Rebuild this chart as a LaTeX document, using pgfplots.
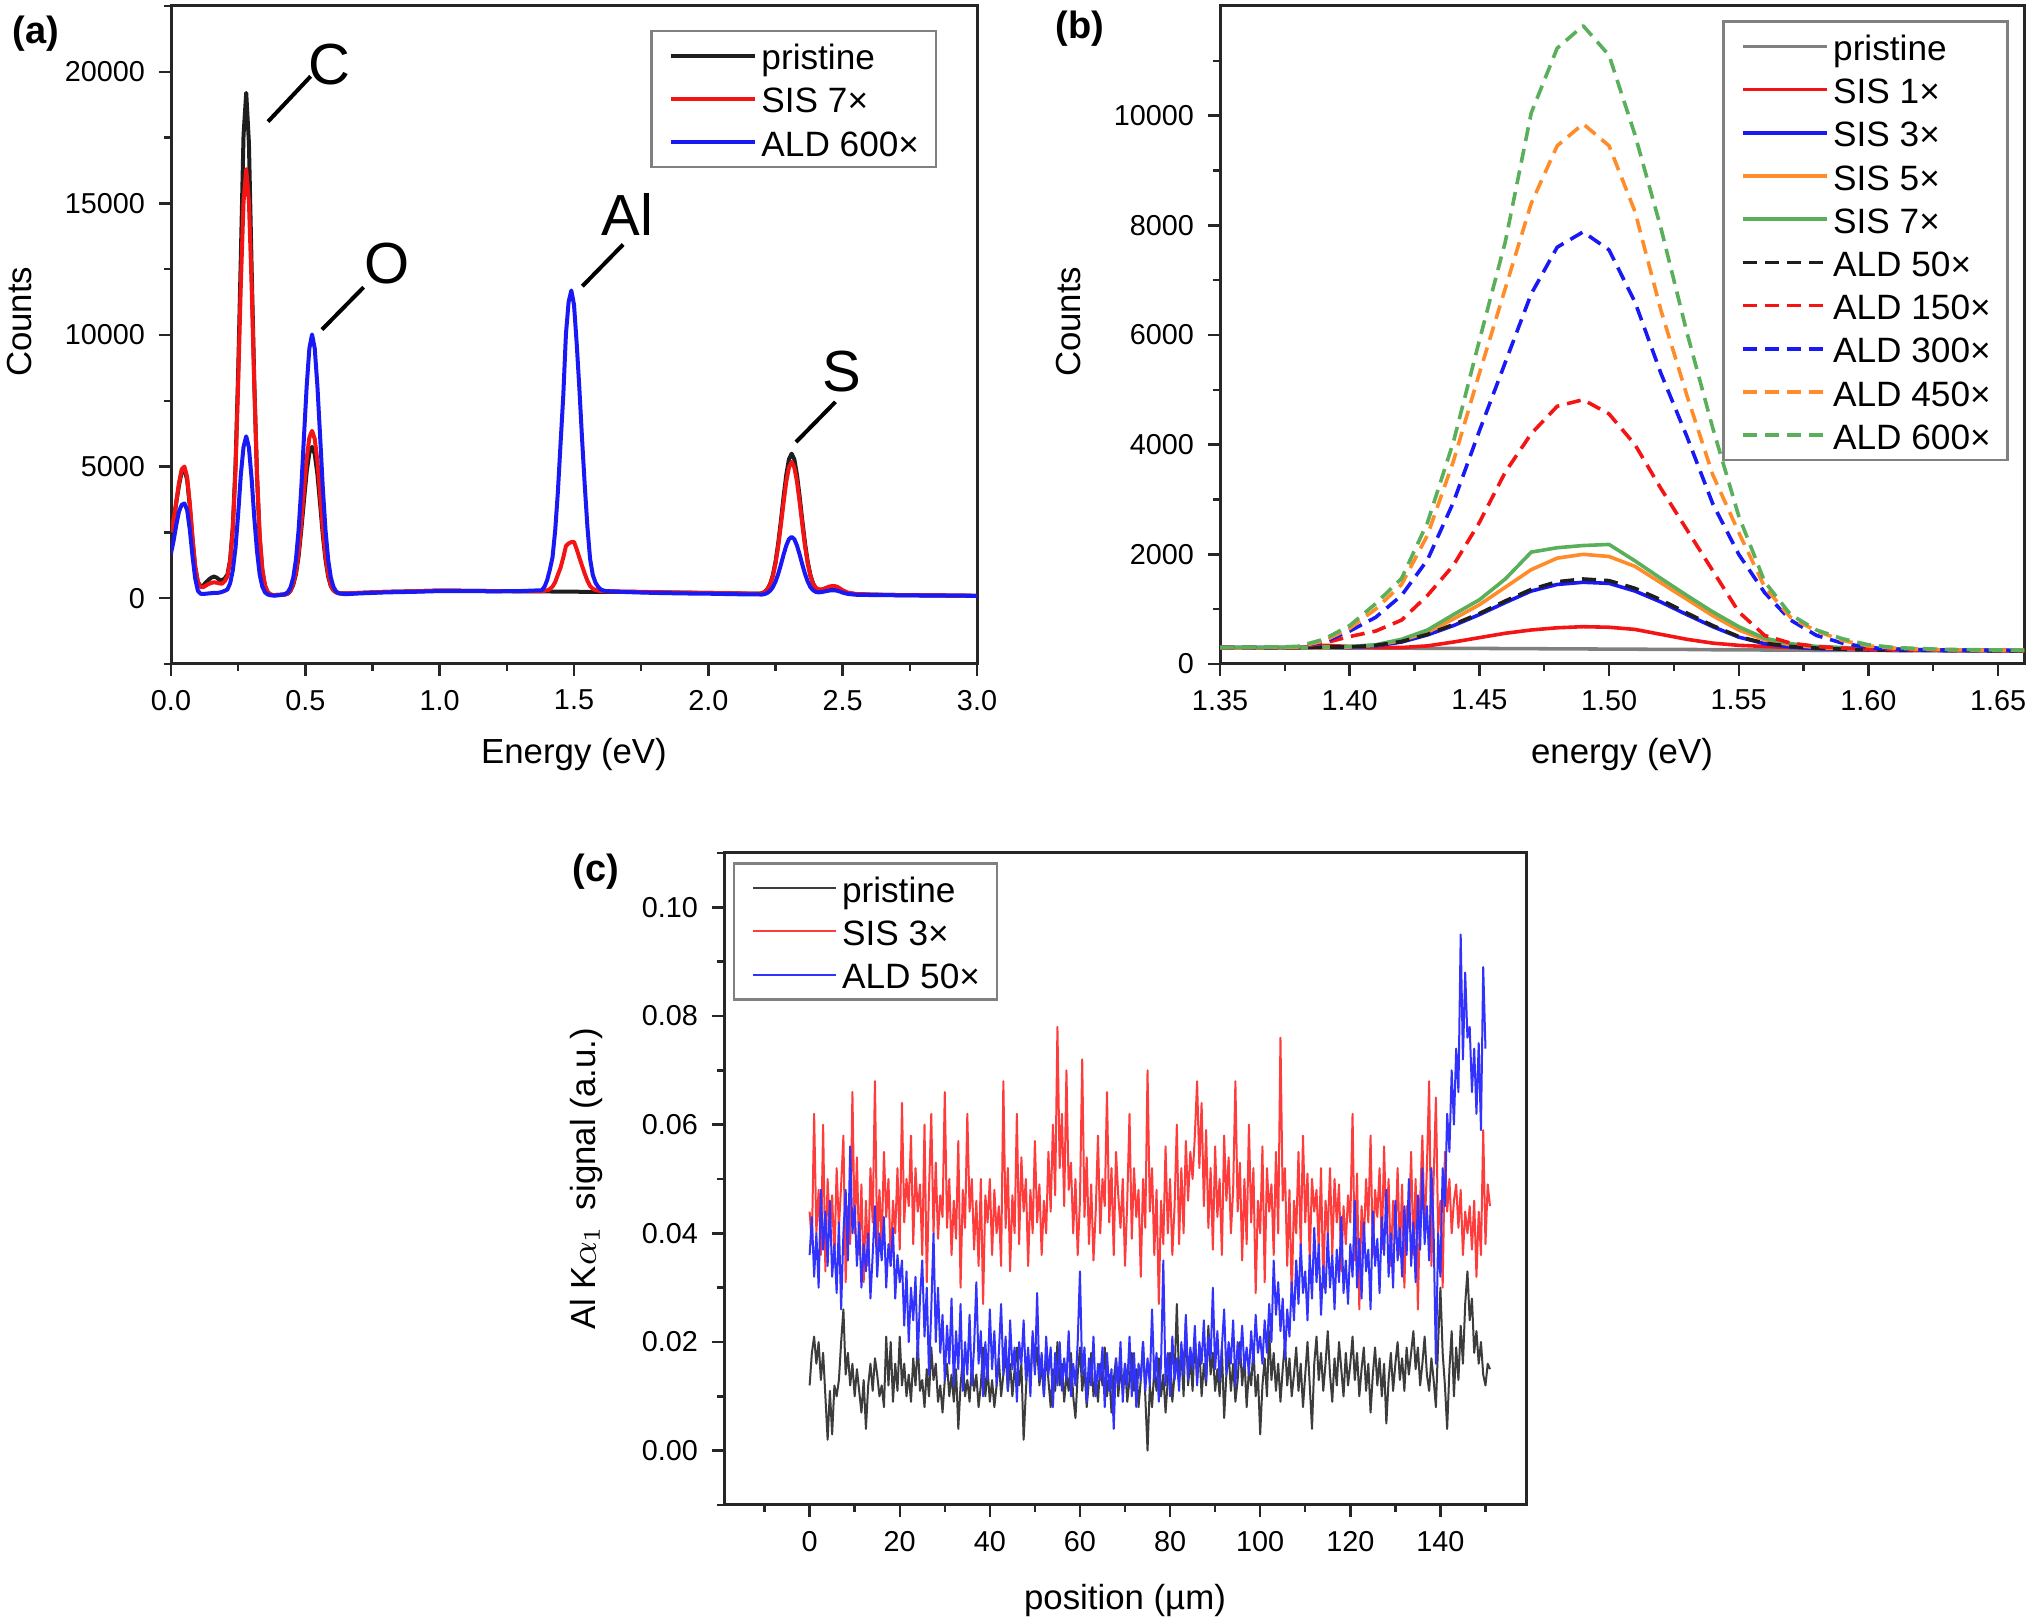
\documentclass[border=0pt]{standalone}
\usepackage{fontspec}
\setmainfont{Liberation Sans}
\usepackage{pgfplots}
\pgfplotsset{compat=1.18}
\usepackage{pgfplotstable}

\definecolor{cR}{RGB}{245,20,20}
\definecolor{cB}{RGB}{25,25,245}
\definecolor{cO}{RGB}{255,140,40}
\definecolor{cG}{RGB}{90,175,90}
\definecolor{cK}{RGB}{30,30,30}
\definecolor{cP}{RGB}{128,128,128}
\definecolor{lR}{RGB}{255,60,60}
\definecolor{lB}{RGB}{50,50,255}
\definecolor{lK}{RGB}{60,60,60}

\pgfplotstableread{
E pri s1 s3 s5 s7 a50 a150 a300 a450 a600
1.35 290 290 300 290 300 300 300 300 300 300
1.36 290 290 300 290 300 300 300 300 300 305
1.37 290 290 300 295 300 300 300 300 305 310
1.38 290 300 300 300 300 300 310 310 310 320
1.39 290 340 310 300 310 310 380 400 420 450
1.40 290 320 300 310 320 310 500 600 650 700
1.41 290 300 330 340 350 340 600 850 1000 1100
1.42 290 300 400 430 450 410 800 1250 1450 1560
1.43 285 330 530 580 620 540 1250 1900 2350 2580
1.44 285 400 700 820 900 720 1800 2950 3700 4050
1.45 285 480 900 1080 1170 920 2580 4250 5300 5900
1.46 280 560 1120 1400 1550 1150 3500 5500 6850 7700
1.47 280 620 1330 1720 2040 1360 4200 6750 8400 10050
1.48 275 660 1450 1930 2120 1500 4700 7600 9450 11230
1.49 275 680 1490 2000 2160 1550 4820 7880 9850 11640
1.50 270 670 1470 1960 2180 1520 4560 7550 9450 11100
1.51 270 630 1330 1780 1880 1380 4000 6600 8250 9650
1.52 265 540 1130 1480 1560 1170 3200 5300 6450 7950
1.53 265 450 900 1180 1250 930 2450 4150 4900 6050
1.54 260 380 680 880 950 700 1700 2920 3450 4300
1.55 260 340 490 620 680 500 950 2000 2400 2700
1.56 255 320 370 440 470 380 520 1300 1400 1500
1.57 255 300 310 350 370 320 380 800 850 900
1.58 250 290 280 300 320 290 320 520 600 620
1.59 250 280 270 280 300 270 290 380 430 460
1.60 250 270 260 270 280 260 270 300 330 350
1.61 245 260 250 260 270 250 260 270 290 300
1.62 245 255 250 255 260 250 255 260 270 280
1.63 245 250 245 250 255 245 250 255 260 265
1.64 240 250 245 250 250 245 250 250 255 260
1.65 240 245 240 245 250 240 245 250 250 255
1.66 240 245 240 245 245 240 245 245 250 250
}\tabB

\pgfplotsset{
  myaxis/.style={
    scale only axis,
    axis line style={line width=0.75pt, black!85},
    tick style={line width=0.6pt, black!85},
    tick align=outside, tick pos=left,
    major tick length=3pt, minor tick length=1.8pt,
    scaled ticks=false,
    /pgf/number format/assume math mode=true,
    tick label style={font=\fontsize{7.2}{8}\selectfont},
    label style={font=\fontsize{8.7}{10}\selectfont},
    legend cell align=left,
    legend image code/.code={\path (0pt,0pt); \draw[##1] (1.5pt,0pt) -- (22.3pt,0pt);},
    legend style={font=\fontsize{8.8}{10}\selectfont, draw=black!50, line width=0.6pt,
      inner xsep=3pt, inner ysep=0.8pt, row sep=0pt,
      nodes={inner xsep=1.2pt, inner ysep=0.8pt, text height=8.1pt, text depth=1.1pt}},
    every axis plot/.append style={line join=round},
  },
  dsh/.style={dash pattern=on 3.5pt off 2pt}
}

\begin{document}
\begin{tikzpicture}
\path[use as bounding box] (0,0) rectangle (508pt,405.75pt);

% ---------------- (a) ----------------
\begin{axis}[myaxis, at={(42.75pt,239.75pt)}, anchor=south west,
  width=201.5pt, height=164.5pt,
  xmin=0, xmax=3, ymin=-2500, ymax=22500,
  xtick={0,0.5,1,1.5,2,2.5,3}, minor xtick={0.25,0.75,1.25,1.75,2.25,2.75},
  ytick={0,5000,10000,15000,20000}, minor ytick={-2500,2500,7500,12500,17500,22500},
  xticklabel style={/pgf/number format/.cd, fixed, fixed zerofill, precision=1},
  yticklabel style={/pgf/number format/.cd, set thousands separator={}},
  xlabel={Energy (eV)}, ylabel={Counts},
  xlabel style={at={(axis description cs:0.5,-0.137)}, anchor=center},
  ylabel style={at={(axis description cs:-0.188,0.52)}, anchor=center},
  legend style={at={(0.9504,0.964)}, anchor=north east},
]
\addplot[cK, line width=1pt] coordinates {(0,2450)(0.01,2950)(0.02,3650)(0.03,4300)(0.04,4800)(0.05,4900)(0.06,4500)(0.07,3500)(0.08,2250)(0.09,1200)(0.10,620)(0.11,450)(0.12,480)(0.13,600)(0.14,700)(0.15,780)(0.16,820)(0.17,780)(0.18,700)(0.19,680)(0.20,750)(0.21,900)(0.22,1450)(0.23,2700)(0.24,5000)(0.25,8600)(0.26,13000)(0.27,17600)(0.28,19200)(0.29,17300)(0.30,12600)(0.31,8200)(0.32,4700)(0.33,2300)(0.34,1050)(0.35,460)(0.36,230)(0.37,140)(0.38,120)(0.39,120)(0.40,125)(0.415,135)(0.425,140)(0.435,170)(0.445,280)(0.455,510)(0.465,910)(0.475,1590)(0.485,2600)(0.495,3720)(0.505,4800)(0.515,5520)(0.525,5750)(0.535,5480)(0.545,4700)(0.555,3580)(0.565,2400)(0.575,1460)(0.585,820)(0.595,450)(0.605,290)(0.615,220)(0.625,190)(0.65,180)(0.70,200)(0.80,240)(0.90,260)(1.00,290)(1.10,280)(1.20,270)(1.30,260)(1.40,255)(1.50,245)(1.60,240)(1.70,240)(1.80,225)(1.90,210)(2.00,200)(2.10,180)(2.19,170)(2.20,190)(2.21,240)(2.22,350)(2.23,540)(2.24,870)(2.25,1380)(2.26,2080)(2.27,2930)(2.28,3850)(2.29,4680)(2.30,5280)(2.31,5490)(2.32,5280)(2.33,4680)(2.34,3850)(2.35,2930)(2.36,2080)(2.37,1380)(2.38,880)(2.39,560)(2.40,380)(2.41,320)(2.42,310)(2.43,330)(2.44,370)(2.45,400)(2.46,420)(2.47,420)(2.48,390)(2.49,330)(2.50,270)(2.52,190)(2.55,150)(2.60,135)(2.70,120)(2.80,110)(2.90,100)(3.00,90)};
\addlegendentry{pristine}
\addplot[cR, line width=1pt] coordinates {(0,2500)(0.01,3000)(0.02,3700)(0.03,4400)(0.04,4900)(0.05,5000)(0.06,4600)(0.07,3600)(0.08,2300)(0.09,1200)(0.10,600)(0.11,420)(0.12,420)(0.13,480)(0.14,540)(0.15,580)(0.16,600)(0.17,590)(0.18,560)(0.19,550)(0.20,645)(0.21,830)(0.22,1385)(0.23,2600)(0.24,4850)(0.25,8150)(0.26,11950)(0.27,15050)(0.28,16300)(0.29,15070)(0.30,11900)(0.31,8080)(0.32,4710)(0.33,2390)(0.34,1090)(0.35,480)(0.36,240)(0.37,140)(0.38,120)(0.39,120)(0.40,125)(0.415,135)(0.425,140)(0.435,180)(0.445,300)(0.455,560)(0.465,1000)(0.475,1750)(0.485,2850)(0.495,4100)(0.505,5300)(0.515,6100)(0.525,6360)(0.535,6050)(0.545,5200)(0.555,3950)(0.565,2650)(0.575,1600)(0.585,900)(0.595,480)(0.605,300)(0.615,220)(0.625,190)(0.65,180)(0.70,200)(0.80,240)(0.90,260)(1.00,290)(1.10,280)(1.20,270)(1.30,265)(1.38,270)(1.39,280)(1.40,300)(1.41,340)(1.42,440)(1.43,610)(1.44,890)(1.45,1160)(1.46,1540)(1.47,1980)(1.48,2080)(1.49,2130)(1.50,2140)(1.51,1860)(1.52,1540)(1.53,1230)(1.54,930)(1.55,660)(1.56,460)(1.57,360)(1.58,310)(1.59,290)(1.60,270)(1.62,260)(1.70,250)(1.80,230)(1.90,215)(2.00,200)(2.10,185)(2.19,170)(2.20,185)(2.21,230)(2.22,330)(2.23,520)(2.24,830)(2.25,1310)(2.26,1960)(2.27,2770)(2.28,3630)(2.29,4420)(2.30,4970)(2.31,5175)(2.32,4970)(2.33,4420)(2.34,3630)(2.35,2770)(2.36,1960)(2.37,1310)(2.38,830)(2.39,540)(2.40,390)(2.41,340)(2.42,330)(2.43,360)(2.44,400)(2.45,440)(2.46,460)(2.47,460)(2.48,430)(2.49,370)(2.50,300)(2.52,210)(2.55,160)(2.60,140)(2.70,120)(2.80,110)(2.90,100)(3.00,90)};
\addlegendentry{SIS 7×}
\addplot[cB, line width=1pt] coordinates {(0,1700)(0.01,2200)(0.02,2800)(0.03,3300)(0.04,3550)(0.05,3600)(0.06,3350)(0.07,2600)(0.08,1600)(0.09,750)(0.10,280)(0.11,170)(0.12,160)(0.13,170)(0.14,180)(0.15,190)(0.16,200)(0.17,200)(0.18,210)(0.19,240)(0.20,280)(0.21,330)(0.22,560)(0.23,1050)(0.24,1900)(0.25,3200)(0.26,4700)(0.27,5750)(0.28,6150)(0.29,5720)(0.30,4550)(0.31,3050)(0.32,1800)(0.33,900)(0.34,430)(0.35,220)(0.36,140)(0.37,110)(0.38,100)(0.39,100)(0.40,110)(0.415,130)(0.425,160)(0.435,230)(0.445,410)(0.455,780)(0.465,1460)(0.475,2600)(0.485,4200)(0.495,6150)(0.505,8050)(0.515,9490)(0.525,10020)(0.535,9490)(0.545,8050)(0.555,6150)(0.565,4200)(0.575,2600)(0.585,1460)(0.595,780)(0.605,420)(0.615,250)(0.625,180)(0.65,150)(0.70,180)(0.80,220)(0.90,240)(1.00,270)(1.10,270)(1.20,260)(1.30,270)(1.35,290)(1.38,300)(1.39,430)(1.40,680)(1.41,1080)(1.42,1550)(1.43,2570)(1.44,4040)(1.45,5880)(1.46,7680)(1.47,10040)(1.48,11260)(1.49,11690)(1.50,11150)(1.51,9680)(1.52,7960)(1.53,6050)(1.54,4290)(1.55,2700)(1.56,1480)(1.57,880)(1.58,590)(1.59,430)(1.60,330)(1.61,290)(1.62,270)(1.70,230)(1.80,200)(1.90,180)(2.00,170)(2.10,150)(2.19,140)(2.20,136)(2.21,157)(2.22,201)(2.23,282)(2.24,418)(2.25,628)(2.26,918)(2.27,1271)(2.28,1652)(2.29,1996)(2.30,2242)(2.31,2330)(2.32,2242)(2.33,1996)(2.34,1652)(2.35,1271)(2.36,918)(2.37,628)(2.38,418)(2.39,300)(2.40,240)(2.41,220)(2.42,230)(2.43,250)(2.44,270)(2.45,290)(2.46,300)(2.47,300)(2.48,280)(2.49,250)(2.50,210)(2.52,160)(2.55,130)(2.60,120)(2.70,110)(2.80,100)(2.90,95)(3.00,90)};
\addlegendentry{ALD 600×}
\node[font=\fontsize{14.5}{16}\selectfont] at (axis cs:0.591,20273) {C};
\draw[line width=1pt] (axis cs:0.361,18106) -- (axis cs:0.520,19829);
\node[font=\fontsize{14.5}{16}\selectfont] at (axis cs:0.804,12720) {O};
\draw[line width=1pt] (axis cs:0.562,10205) -- (axis cs:0.717,11814);
\node[font=\fontsize{14.5}{16}\selectfont] at (axis cs:1.699,14561) {Al};
\draw[line width=1pt] (axis cs:1.531,11852) -- (axis cs:1.683,13438);
\node[font=\fontsize{14.5}{16}\selectfont] at (axis cs:2.497,8600) {S};
\draw[line width=1pt] (axis cs:2.326,5928) -- (axis cs:2.473,7457);
\end{axis}

% ---------------- (b) ----------------
\begin{axis}[myaxis, at={(305pt,239.75pt)}, anchor=south west,
  width=201pt, height=164.5pt,
  xmin=1.35, xmax=1.66, ymin=0, ymax=12000,
  xtick={1.35,1.40,1.45,1.50,1.55,1.60,1.65}, minor xtick={1.375,1.425,1.475,1.525,1.575,1.625},
  ytick={0,2000,4000,6000,8000,10000}, minor ytick={1000,3000,5000,7000,9000,11000},
  xticklabel style={/pgf/number format/.cd, fixed, fixed zerofill, precision=2},
  yticklabel style={/pgf/number format/.cd, set thousands separator={}},
  xlabel={energy (eV)}, ylabel={Counts},
  xlabel style={at={(axis description cs:0.5,-0.137)}, anchor=center},
  ylabel style={at={(axis description cs:-0.188,0.52)}, anchor=center},
  legend style={at={(0.981,0.978)}, anchor=north east},
]
\addplot[cP, line width=0.9pt] table[x=E, y=pri] {\tabB}; \addlegendentry{pristine}
\addplot[cR, line width=0.9pt] table[x=E, y=s1] {\tabB}; \addlegendentry{SIS 1×}
\addplot[cB, line width=0.9pt] table[x=E, y=s3] {\tabB}; \addlegendentry{SIS 3×}
\addplot[cO, line width=0.9pt] table[x=E, y=s5] {\tabB}; \addlegendentry{SIS 5×}
\addplot[cG, line width=0.9pt] table[x=E, y=s7] {\tabB}; \addlegendentry{SIS 7×}
\addplot[cK, line width=0.9pt, dsh] table[x=E, y=a50] {\tabB}; \addlegendentry{ALD 50×}
\addplot[cR, line width=0.9pt, dsh] table[x=E, y=a150] {\tabB}; \addlegendentry{ALD 150×}
\addplot[cB, line width=0.9pt, dsh] table[x=E, y=a300] {\tabB}; \addlegendentry{ALD 300×}
\addplot[cO, line width=0.9pt, dsh] table[x=E, y=a450] {\tabB}; \addlegendentry{ALD 450×}
\addplot[cG, line width=0.9pt, dsh] table[x=E, y=a600] {\tabB}; \addlegendentry{ALD 600×}
\end{axis}

% ---------------- (c) ----------------
\begin{axis}[myaxis, at={(181pt,29.5pt)}, anchor=south west,
  width=200.5pt, height=163pt,
  xmin=-19, xmax=159, ymin=-0.01, ymax=0.11,
  xtick={0,20,40,60,80,100,120,140}, minor xtick={-10,10,30,50,70,90,110,130,150},
  ytick={0,0.02,0.04,0.06,0.08,0.10}, minor ytick={-0.01,0.01,0.03,0.05,0.07,0.09,0.11},
  yticklabel style={/pgf/number format/.cd, fixed, fixed zerofill, precision=2},
  xlabel={position (µm)}, ylabel={Al K$\alpha_1$\, signal (a.u.)},
  xlabel style={at={(axis description cs:0.5,-0.146)}, anchor=center},
  ylabel style={at={(axis description cs:-0.171,0.5)}, anchor=center},
  legend style={at={(0.011,0.986)}, anchor=north west},
]
\addplot[lK, line width=0.5pt] table[header=false, row sep=\\, x expr=\coordindex*0.5, y index=0] {
0.012\\0.018\\0.021\\0.016\\0.020\\0.013\\0.018\\0.010\\0.002\\0.011\\0.003\\0.012\\0.010\\0.013\\0.020\\0.026\\0.014\\0.018\\0.012\\0.016\\0.010\\
0.015\\0.011\\0.007\\0.013\\0.004\\0.012\\0.016\\0.011\\0.017\\0.014\\0.010\\0.012\\0.008\\0.021\\0.012\\0.020\\0.009\\0.016\\0.011\\0.021\\
0.012\\0.016\\0.010\\0.014\\0.009\\0.017\\0.012\\0.020\\0.011\\0.013\\0.008\\0.015\\0.010\\0.019\\0.013\\0.016\\0.009\\0.012\\0.007\\0.013\\
0.016\\0.010\\0.014\\0.009\\0.015\\0.004\\0.012\\0.017\\0.010\\0.013\\0.009\\0.016\\0.011\\0.014\\0.008\\0.012\\0.019\\0.010\\0.015\\0.009\\
0.013\\0.008\\0.012\\0.017\\0.010\\0.014\\0.018\\0.011\\0.016\\0.010\\0.015\\0.019\\0.012\\0.016\\0.002\\0.011\\0.018\\0.013\\0.021\\0.015\\
0.019\\0.012\\0.016\\0.010\\0.018\\0.013\\0.008\\0.015\\0.011\\0.020\\0.012\\0.016\\0.009\\0.014\\0.011\\0.018\\0.010\\0.006\\0.014\\0.019\\
0.011\\0.015\\0.008\\0.013\\0.018\\0.010\\0.014\\0.009\\0.016\\0.012\\0.019\\0.010\\0.014\\0.007\\0.013\\0.017\\0.010\\0.015\\0.011\\0.016\\
0.009\\0.013\\0.018\\0.011\\0.015\\0.008\\0.013\\0.020\\0.010\\0.000\\0.012\\0.008\\0.015\\0.011\\0.017\\0.010\\0.014\\0.007\\0.013\\0.018\\
0.009\\0.014\\0.027\\0.013\\0.018\\0.010\\0.024\\0.012\\0.017\\0.011\\0.021\\0.013\\0.019\\0.010\\0.016\\0.012\\0.023\\0.014\\0.018\\0.011\\
0.015\\0.010\\0.019\\0.006\\0.014\\0.018\\0.011\\0.016\\0.009\\0.013\\0.020\\0.012\\0.017\\0.008\\0.015\\0.012\\0.019\\0.010\\0.014\\0.003\\
0.012\\0.017\\0.010\\0.022\\0.013\\0.018\\0.011\\0.016\\0.009\\0.015\\0.020\\0.012\\0.017\\0.010\\0.014\\0.019\\0.011\\0.016\\0.008\\0.014\\
0.020\\0.012\\0.004\\0.016\\0.021\\0.013\\0.018\\0.011\\0.016\\0.022\\0.014\\0.009\\0.017\\0.012\\0.020\\0.015\\0.010\\0.018\\0.012\\0.016\\
0.021\\0.013\\0.018\\0.010\\0.015\\0.019\\0.011\\0.016\\0.007\\0.014\\0.019\\0.012\\0.017\\0.010\\0.016\\0.005\\0.013\\0.018\\0.011\\0.016\\
0.020\\0.013\\0.017\\0.011\\0.019\\0.014\\0.018\\0.022\\0.015\\0.019\\0.012\\0.016\\0.021\\0.014\\0.011\\0.017\\0.013\\0.008\\0.020\\0.030\\
0.018\\0.012\\0.004\\0.015\\0.022\\0.010\\0.019\\0.013\\0.023\\0.016\\0.027\\0.033\\0.024\\0.028\\0.018\\0.022\\0.016\\0.020\\0.014\\0.012\\
0.016\\0.015\\
};
\addlegendentry{pristine}
\addplot[lR, line width=0.5pt] table[header=false, row sep=\\, x expr=\coordindex*0.5, y index=0] {
0.044\\0.038\\0.062\\0.040\\0.048\\0.036\\0.060\\0.033\\0.050\\0.040\\0.047\\0.035\\0.052\\0.041\\0.049\\0.058\\0.031\\0.045\\0.038\\0.066\\0.040\\
0.054\\0.036\\0.049\\0.031\\0.046\\0.034\\0.052\\0.042\\0.068\\0.037\\0.048\\0.038\\0.055\\0.043\\0.050\\0.034\\0.046\\0.040\\0.052\\0.037\\
0.064\\0.042\\0.050\\0.045\\0.058\\0.038\\0.052\\0.044\\0.049\\0.036\\0.060\\0.031\\0.048\\0.062\\0.040\\0.053\\0.039\\0.047\\0.043\\0.066\\
0.041\\0.050\\0.036\\0.046\\0.039\\0.057\\0.030\\0.048\\0.041\\0.062\\0.044\\0.050\\0.037\\0.046\\0.034\\0.050\\0.027\\0.047\\0.042\\0.050\\
0.036\\0.048\\0.040\\0.045\\0.034\\0.068\\0.041\\0.052\\0.033\\0.047\\0.040\\0.062\\0.038\\0.054\\0.044\\0.050\\0.034\\0.048\\0.040\\0.057\\
0.042\\0.049\\0.036\\0.046\\0.040\\0.055\\0.044\\0.060\\0.047\\0.078\\0.052\\0.062\\0.045\\0.070\\0.048\\0.053\\0.040\\0.050\\0.036\\0.046\\
0.072\\0.043\\0.054\\0.038\\0.049\\0.035\\0.044\\0.058\\0.040\\0.050\\0.045\\0.066\\0.042\\0.052\\0.036\\0.055\\0.047\\0.041\\0.050\\0.034\\
0.046\\0.062\\0.039\\0.052\\0.043\\0.048\\0.032\\0.050\\0.041\\0.070\\0.044\\0.052\\0.036\\0.048\\0.027\\0.046\\0.038\\0.056\\0.040\\0.050\\
0.036\\0.045\\0.060\\0.038\\0.052\\0.040\\0.057\\0.046\\0.055\\0.050\\0.058\\0.068\\0.052\\0.064\\0.045\\0.059\\0.041\\0.052\\0.037\\0.056\\
0.043\\0.050\\0.036\\0.058\\0.046\\0.054\\0.040\\0.048\\0.068\\0.044\\0.053\\0.035\\0.050\\0.038\\0.060\\0.042\\0.052\\0.029\\0.046\\0.040\\
0.056\\0.031\\0.052\\0.044\\0.049\\0.036\\0.055\\0.040\\0.076\\0.046\\0.052\\0.034\\0.048\\0.028\\0.046\\0.040\\0.055\\0.037\\0.058\\0.042\\
0.051\\0.035\\0.050\\0.044\\0.048\\0.037\\0.052\\0.030\\0.046\\0.040\\0.052\\0.036\\0.050\\0.042\\0.049\\0.033\\0.045\\0.038\\0.047\\0.042\\
0.062\\0.035\\0.051\\0.026\\0.045\\0.038\\0.050\\0.042\\0.058\\0.036\\0.048\\0.043\\0.052\\0.037\\0.056\\0.040\\0.050\\0.034\\0.046\\0.039\\
0.052\\0.036\\0.049\\0.030\\0.045\\0.041\\0.055\\0.036\\0.050\\0.026\\0.046\\0.058\\0.040\\0.052\\0.068\\0.034\\0.050\\0.065\\0.040\\0.046\\
0.030\\0.055\\0.044\\0.050\\0.040\\0.046\\0.049\\0.041\\0.048\\0.036\\0.044\\0.040\\0.045\\0.037\\0.046\\0.032\\0.044\\0.036\\0.059\\0.038\\
0.049\\0.045\\
};
\addlegendentry{SIS 3×}
\addplot[lB, line width=0.5pt] table[header=false, row sep=\\, x expr=\coordindex*0.5, y index=0] {
0.036\\0.043\\0.032\\0.040\\0.030\\0.048\\0.037\\0.044\\0.034\\0.046\\0.032\\0.038\\0.029\\0.042\\0.026\\0.040\\0.048\\0.035\\0.056\\0.040\\0.045\\
0.034\\0.042\\0.030\\0.038\\0.033\\0.040\\0.028\\0.036\\0.045\\0.032\\0.040\\0.035\\0.043\\0.030\\0.038\\0.034\\0.041\\0.028\\0.036\\0.031\\
0.035\\0.023\\0.033\\0.020\\0.030\\0.024\\0.032\\0.017\\0.028\\0.035\\0.021\\0.030\\0.014\\0.026\\0.040\\0.020\\0.030\\0.018\\0.025\\0.013\\
0.023\\0.016\\0.028\\0.012\\0.022\\0.015\\0.027\\0.011\\0.020\\0.014\\0.025\\0.012\\0.019\\0.031\\0.016\\0.022\\0.010\\0.020\\0.013\\0.026\\
0.015\\0.022\\0.012\\0.018\\0.027\\0.014\\0.021\\0.011\\0.024\\0.015\\0.019\\0.009\\0.020\\0.016\\0.024\\0.013\\0.019\\0.010\\0.022\\0.014\\
0.029\\0.013\\0.018\\0.010\\0.021\\0.014\\0.019\\0.008\\0.018\\0.012\\0.020\\0.011\\0.017\\0.013\\0.022\\0.010\\0.016\\0.012\\0.020\\0.033\\
0.014\\0.019\\0.009\\0.017\\0.012\\0.021\\0.010\\0.016\\0.013\\0.019\\0.008\\0.018\\0.011\\0.015\\0.004\\0.017\\0.012\\0.020\\0.009\\0.016\\
0.012\\0.021\\0.010\\0.018\\0.008\\0.016\\0.013\\0.020\\0.011\\0.017\\0.012\\0.026\\0.013\\0.018\\0.009\\0.016\\0.035\\0.012\\0.018\\0.010\\
0.021\\0.013\\0.017\\0.011\\0.020\\0.014\\0.025\\0.013\\0.019\\0.015\\0.023\\0.012\\0.020\\0.016\\0.024\\0.013\\0.021\\0.017\\0.030\\0.015\\
0.022\\0.013\\0.019\\0.026\\0.014\\0.020\\0.016\\0.024\\0.012\\0.020\\0.016\\0.023\\0.015\\0.019\\0.014\\0.022\\0.016\\0.025\\0.018\\0.021\\
0.016\\0.024\\0.018\\0.027\\0.020\\0.035\\0.025\\0.031\\0.022\\0.028\\0.017\\0.026\\0.021\\0.031\\0.024\\0.035\\0.027\\0.038\\0.029\\0.033\\
0.024\\0.036\\0.028\\0.041\\0.031\\0.038\\0.025\\0.034\\0.029\\0.040\\0.030\\0.036\\0.026\\0.037\\0.031\\0.043\\0.029\\0.035\\0.027\\0.038\\
0.032\\0.046\\0.030\\0.039\\0.028\\0.042\\0.033\\0.037\\0.026\\0.044\\0.034\\0.039\\0.029\\0.043\\0.036\\0.048\\0.032\\0.040\\0.030\\0.046\\
0.035\\0.041\\0.032\\0.045\\0.036\\0.050\\0.034\\0.042\\0.031\\0.047\\0.037\\0.052\\0.038\\0.045\\0.035\\0.052\\0.040\\0.016\\0.040\\0.032\\
0.052\\0.045\\0.062\\0.055\\0.070\\0.060\\0.074\\0.066\\0.095\\0.072\\0.088\\0.076\\0.078\\0.066\\0.074\\0.062\\0.075\\0.059\\0.089\\0.074\\
};
\addlegendentry{ALD 50×}
\end{axis}

\node[font=\bfseries\fontsize{9.5}{11}\selectfont] at (9pt,397.25pt) {(a)};
\node[font=\bfseries\fontsize{9.5}{11}\selectfont] at (270pt,398.5pt) {(b)};
\node[font=\bfseries\fontsize{9.5}{11}\selectfont] at (149pt,187.75pt) {(c)};
\end{tikzpicture}
\end{document}
